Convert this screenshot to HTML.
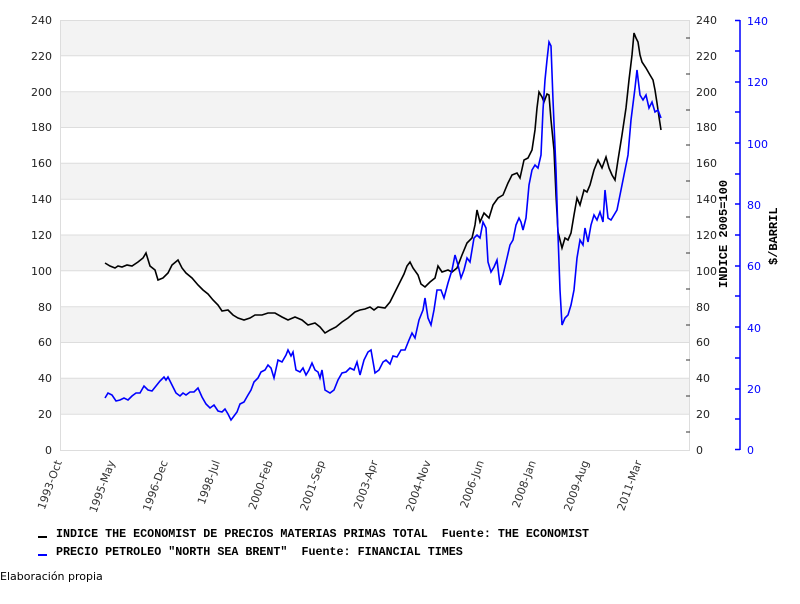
<!DOCTYPE html>
<html><head><meta charset="utf-8"><style>
body{margin:0;background:#fff;width:800px;height:600px;overflow:hidden;font-family:"DejaVu Sans",sans-serif}
</style></head><body>
<svg width="800" height="600" xmlns="http://www.w3.org/2000/svg" font-family="DejaVu Sans, sans-serif" font-size="11">
<g fill="#f3f3f3">
<rect x="60" y="20" width="630" height="35.8"/>
<rect x="60" y="91.7" width="630" height="35.8"/>
<rect x="60" y="163.3" width="630" height="35.8"/>
<rect x="60" y="235" width="630" height="35.8"/>
<rect x="60" y="306.7" width="630" height="35.8"/>
<rect x="60" y="378.3" width="630" height="35.8"/>
</g>
<g stroke="#ddd" stroke-width="1">
<line x1="60" y1="20.5" x2="690" y2="20.5"/><line x1="60" y1="55.8" x2="690" y2="55.8"/><line x1="60" y1="91.7" x2="690" y2="91.7"/><line x1="60" y1="127.5" x2="690" y2="127.5"/><line x1="60" y1="163.3" x2="690" y2="163.3"/><line x1="60" y1="199.2" x2="690" y2="199.2"/><line x1="60" y1="235" x2="690" y2="235"/><line x1="60" y1="270.8" x2="690" y2="270.8"/><line x1="60" y1="306.7" x2="690" y2="306.7"/><line x1="60" y1="342.5" x2="690" y2="342.5"/><line x1="60" y1="378.3" x2="690" y2="378.3"/><line x1="60" y1="414.2" x2="690" y2="414.2"/>
<line x1="60.5" y1="20" x2="60.5" y2="450"/><line x1="689.5" y1="20" x2="689.5" y2="450"/><line x1="60" y1="450.5" x2="690" y2="450.5"/>
</g>
<g fill="#222" text-anchor="end">
<text x="52" y="24">240</text><text x="52" y="60">220</text><text x="52" y="96">200</text><text x="52" y="131">180</text><text x="52" y="167">160</text><text x="52" y="203">140</text><text x="52" y="239">120</text><text x="52" y="275">100</text><text x="52" y="311">80</text><text x="52" y="346">60</text><text x="52" y="382">40</text><text x="52" y="418">20</text><text x="52" y="454">0</text>
</g>
<g fill="#222">
<text x="696" y="24">240</text><text x="696" y="60">220</text><text x="696" y="96">200</text><text x="696" y="131">180</text><text x="696" y="167">160</text><text x="696" y="203">140</text><text x="696" y="239">120</text><text x="696" y="275">100</text><text x="696" y="311">80</text><text x="696" y="346">60</text><text x="696" y="382">40</text><text x="696" y="418">20</text><text x="696" y="454">0</text>
</g>
<g stroke="#333"><line x1="686" y1="38" x2="690" y2="38"/><line x1="686" y1="74" x2="690" y2="74"/><line x1="686" y1="110" x2="690" y2="110"/><line x1="686" y1="145" x2="690" y2="145"/><line x1="686" y1="181" x2="690" y2="181"/><line x1="686" y1="217" x2="690" y2="217"/><line x1="686" y1="253" x2="690" y2="253"/><line x1="686" y1="289" x2="690" y2="289"/><line x1="686" y1="325" x2="690" y2="325"/><line x1="686" y1="360" x2="690" y2="360"/><line x1="686" y1="396" x2="690" y2="396"/><line x1="686" y1="432" x2="690" y2="432"/></g>
<g stroke="#0000ff" stroke-width="1.5">
<line x1="740" y1="20" x2="740" y2="450"/>
<line x1="735" y1="20.5" x2="740" y2="20.5"/><line x1="735" y1="51" x2="740" y2="51"/><line x1="735" y1="82" x2="740" y2="82"/><line x1="735" y1="112" x2="740" y2="112"/><line x1="735" y1="143" x2="740" y2="143"/><line x1="735" y1="174" x2="740" y2="174"/><line x1="735" y1="204" x2="740" y2="204"/><line x1="735" y1="235" x2="740" y2="235"/><line x1="735" y1="266" x2="740" y2="266"/><line x1="735" y1="296" x2="740" y2="296"/><line x1="735" y1="327" x2="740" y2="327"/><line x1="735" y1="358" x2="740" y2="358"/><line x1="735" y1="389" x2="740" y2="389"/><line x1="735" y1="419" x2="740" y2="419"/><line x1="735" y1="449.5" x2="740" y2="449.5"/>
</g>
<g fill="#0000ff">
<text x="747" y="25">140</text><text x="747" y="86">120</text><text x="747" y="148">100</text><text x="747" y="209">80</text><text x="747" y="270">60</text><text x="747" y="332">40</text><text x="747" y="393">20</text><text x="747" y="454">0</text>
</g>
<text transform="translate(727,288) rotate(-90)" font-family="Liberation Mono, monospace" font-weight="bold" font-size="12" fill="#000">INDICE 2005=100</text>
<text transform="translate(777,265) rotate(-90)" font-family="Liberation Mono, monospace" font-weight="bold" font-size="12" fill="#000">$/BARRIL</text>
<g fill="#333" text-anchor="end">
<text transform="translate(62,462) rotate(-70)">1993-Oct</text>
<text transform="translate(115,462) rotate(-70)">1995-May</text>
<text transform="translate(168,462) rotate(-70)">1996-Dec</text>
<text transform="translate(220,462) rotate(-70)">1998-Jul</text>
<text transform="translate(273,462) rotate(-70)">2000-Feb</text>
<text transform="translate(325,462) rotate(-70)">2001-Sep</text>
<text transform="translate(378,462) rotate(-70)">2003-Apr</text>
<text transform="translate(431,462) rotate(-70)">2004-Nov</text>
<text transform="translate(484,462) rotate(-70)">2006-Jun</text>
<text transform="translate(536,462) rotate(-70)">2008-Jan</text>
<text transform="translate(589,462) rotate(-70)">2009-Aug</text>
<text transform="translate(642,462) rotate(-70)">2011-Mar</text>
</g>
<polyline fill="none" stroke="#000" stroke-width="1.6" points="105,263 110,266 115,268 118,266 122,267 127,265 132,266 138,262 143,258 146,253 150,266 155,270 158,280 163,278 168,273 172,265 178,260 182,268 186,273 192,278 198,285 203,290 208,294 213,300 218,305 222,311 228,310 233,315 238,318 244,320 250,318 255,315 262,315 268,313 275,313 282,317 288,320 295,317 302,320 308,325 315,323 320,327 325,333 330,330 336,327 342,322 348,318 355,312 360,310 365,309 370,307 374,310 378,307 385,308 390,302 395,292 400,282 404,274 407,266 410,262 413,268 418,275 421,284 425,287 430,282 435,278 438,266 442,272 448,270 452,272 457,268 462,255 467,243 472,238 475,225 477,210 480,222 484,213 489,218 493,205 498,198 503,195 508,183 512,175 517,173 520,178 524,160 528,158 532,150 535,130 537,108 539,92 542,97 544,102 547,94 549,95 551,120 554,150 556,195 558,232 562,248 565,238 568,240 571,233 574,215 577,198 580,205 584,190 587,192 590,185 594,170 598,160 602,168 606,157 609,168 612,175 615,180 618,160 622,135 626,108 629,80 632,55 634,33 636,38 638,42 640,55 642,62 646,68 650,75 653,80 655,90 657,103 659,117 661,130"/>
<polyline fill="none" stroke="#0000ff" stroke-width="1.6" points="105,398 108,393 112,395 116,401 120,400 124,398 128,400 132,396 136,393 140,393 144,386 148,390 152,391 156,386 160,381 164,377 166,380 168,377 172,385 176,393 180,396 183,393 186,395 190,392 194,392 198,388 202,397 206,404 210,408 214,405 218,411 222,412 225,409 228,414 231,420 234,416 237,412 240,404 244,402 248,395 251,390 254,382 258,378 261,372 265,370 268,365 271,368 274,378 278,360 282,362 286,355 288,350 291,356 293,352 296,370 300,372 303,368 306,375 309,370 312,363 315,370 318,372 320,378 322,370 325,390 330,393 334,390 338,380 342,373 346,372 350,368 354,370 357,362 360,375 364,360 368,352 371,350 375,373 379,370 383,362 386,360 390,364 393,356 397,357 401,350 405,350 409,340 412,333 415,338 419,320 423,310 425,298 428,318 431,325 434,310 437,290 441,290 444,298 448,283 452,270 455,255 458,265 461,278 464,270 467,258 470,262 474,238 477,235 480,238 483,222 486,228 488,262 491,272 494,267 497,260 500,285 503,275 507,258 510,245 513,240 516,225 519,218 521,222 523,230 526,218 529,185 532,170 535,165 538,168 541,155 543,110 545,80 547,60 549,42 551,46 553,100 556,170 558,235 560,290 562,325 565,318 568,315 571,305 574,290 577,258 580,240 583,245 585,228 588,242 591,225 594,215 597,220 600,212 603,222 605,190 608,218 611,220 614,215 617,210 620,195 624,175 628,155 631,120 635,88 637,70 640,95 643,100 646,95 649,108 652,102 655,112 658,110 661,118"/>
<rect x="38" y="536" width="9" height="2" fill="#000"/>
<rect x="38" y="554" width="9" height="2" fill="#0000ff"/>
<g font-family="Liberation Mono, monospace" font-weight="bold" font-size="11.7" fill="#000">
<text x="56" y="537" xml:space="preserve">INDICE THE ECONOMIST DE PRECIOS MATERIAS PRIMAS TOTAL  Fuente: THE ECONOMIST</text>
<text x="56" y="555" xml:space="preserve">PRECIO PETROLEO "NORTH SEA BRENT"  Fuente: FINANCIAL TIMES</text>
</g>
<text x="0" y="580" font-size="11" fill="#000">Elaboración propia</text>
</svg>
</body></html>
